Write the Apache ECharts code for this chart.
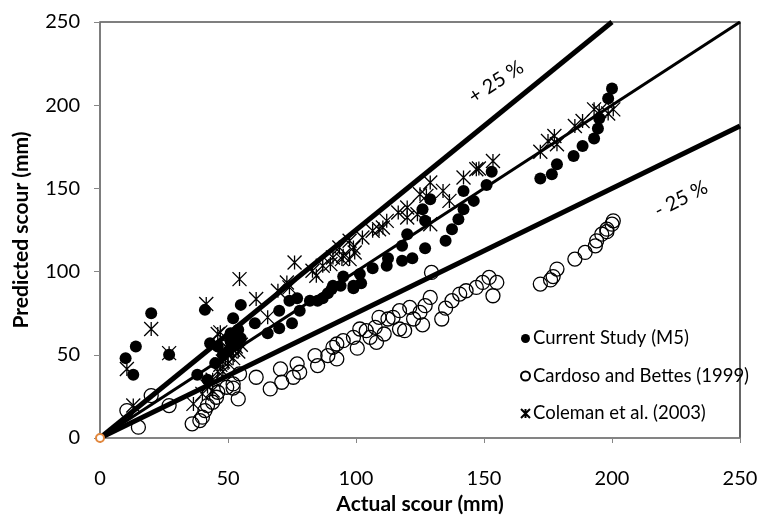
<!DOCTYPE html>
<html>
<head>
<meta charset="utf-8">
<script src="https://cdn.jsdelivr.net/npm/echarts@6/dist/echarts.min.js"></script>
<style>
  html, body { margin: 0; padding: 0; background: #fff; }
  #main { width: 757px; height: 515px; }
</style>
</head>
<body>
<div id="main"></div>
<script>
// tick values shared by both axes
var ticks = [0, 50, 100, 150, 200, 250];

// Current Study (M5): [actual, predicted]
var currentStudy = [
    [10, 48], [14, 55], [13, 38], [20, 75], [27, 50], [41, 77], [55, 80],
    [38, 38], [42, 35], [45, 45], [46, 55], [48, 50], [50, 52], [51, 58],
    [52, 62], [53, 56], [54, 65], [55, 60], [52, 72], [43, 57], [51, 63],
    [53.5, 58], [60.5, 69], [65.5, 63], [70, 66], [75, 69], [70, 76.5],
    [74, 82.5], [77, 84], [78, 76.5], [82, 82.5], [85, 82.5], [87, 84],
    [89, 87], [90.5, 89.5], [91, 91.5], [94, 91.5], [95, 97], [99, 91.5],
    [99, 90], [101.5, 98.5], [102, 93], [106.5, 102], [112, 103.5],
    [112.5, 108], [118, 106.5], [118, 115.5], [120, 122.5], [122, 108],
    [127, 114], [126, 137.5], [127, 130.5], [129, 143.5], [135, 118.5],
    [137.5, 125.5], [140, 131.5], [142, 137.5], [142, 148.5], [146, 142.5],
    [151, 152], [153, 160], [172, 156], [176.5, 158.5], [178.5, 164.5],
    [185, 169.5], [188.5, 175.5], [193, 180], [194.5, 186], [195, 192],
    [198.5, 204], [200, 210]
];

// Cardoso and Bettes (1999)
var cardosoBettes = [
    [10.5, 16.5], [15, 6.5], [20, 25.5], [27, 19.5], [36, 8.5], [39, 10.5],
    [40, 12.5], [41, 16.5], [42, 19.5], [44, 21.5], [45.5, 24.5], [46, 27.5],
    [49.5, 30.5], [52, 32.5], [52, 30], [54, 23.5], [54.5, 38.5], [61, 36.5],
    [66.5, 29.5], [71, 33.5], [70.5, 41.5], [75.5, 36.5], [77, 44.5],
    [78, 39.5], [85, 43.5], [84, 49.5], [89, 49.5], [91, 54.5], [92.5, 47.5],
    [92.5, 56.5], [95, 58.5], [99, 60.5], [100.5, 54], [101.5, 65.5],
    [104, 64.5], [105.5, 60.5], [108, 57.5], [107.5, 66.5], [109, 72.5],
    [111, 62.5], [112.5, 71.5], [114.5, 72.5], [117, 65.5], [117, 76.5],
    [119, 64.5], [121, 78.5], [122.5, 71.5], [125, 75.5], [126, 68],
    [127, 79.5], [129, 84.5], [129.5, 99.5], [133.5, 71.5], [135, 78],
    [137.5, 82.5], [140.5, 86.5], [143, 88.5], [147, 90.5], [149.5, 93.5],
    [152, 96.5], [155, 93.5], [153.5, 85.5], [172, 92.5], [176, 95],
    [177, 97], [178.5, 101.5], [185.5, 107.5], [189.5, 111.5], [193.5, 115.5],
    [194, 118.5], [196, 122.5], [198, 124], [198, 125.5], [200, 128.5],
    [200.5, 130.5]
];

// Coleman et al. (2003)
var colemanEtAl = [
    [10.5, 41.5], [13, 19.5], [20, 65.5], [27, 51], [36.5, 20.5], [41.5, 80.5],
    [40, 26.5], [44, 28.5], [42, 31], [44, 35], [46, 40], [47, 44], [48, 46],
    [49, 48], [50, 50], [51, 52], [52, 53], [53, 55], [54, 52], [55, 56],
    [48, 40], [50, 45], [52, 48], [46, 62.5], [47, 63.5], [49.5, 54.5],
    [54.5, 95.5], [61, 83.5], [65.5, 72.5], [69.5, 88.5], [73, 93.5],
    [76, 105.5], [74, 90.5], [83, 100.5], [84.5, 97.5], [87, 103.5],
    [90, 104.5], [91, 108.5], [94.5, 107.5], [95, 109.5], [97.5, 107.5],
    [99, 114.5], [99.5, 111.5], [93.5, 114.5], [97.5, 118.5], [102.5, 120.5],
    [106.5, 124.5], [109, 125.5], [110.5, 126.5], [112, 130.5], [116.5, 135.5],
    [120, 138.5], [120, 132.5], [124, 134.5], [125, 146.5], [127.5, 145.5],
    [129, 128.5], [129, 153.5], [134, 148.5], [136.5, 142.5], [142, 156.5],
    [147, 161.5], [148, 162], [153.5, 166.5], [172, 172], [175, 178.5],
    [177.5, 181.5], [178.5, 176.5], [185.5, 187.5], [188.5, 190.5],
    [193, 197.5], [195, 196.5], [198.5, 195], [200.5, 197.5]
];

// reference lines: perfect agreement, +25 %, -25 %
var lineEqual = [[0, 0], [250, 250]];
var linePlus25 = [[0, 0], [200, 250]];
var lineMinus25 = [[0, 0], [250, 187.5]];
var origin = [[0, 0]];

var fontName = 'Lato, "Open Sans", sans-serif';
var starPath = 'path://M-1,-1L1,1M-1,1L1,-1M0,-1L0,1';

var myChart = echarts.init(document.getElementById('main'));

var option = {
    animation: false,
    backgroundColor: '#fff',
    grid: {
        left: 100,
        right: 17,
        top: 22,
        bottom: 77,
        outerBoundsMode: 'none',
        show: true,
        borderColor: '#000',
        borderWidth: 1.2
    },
    legend: {
        orient: 'vertical',
        left: 515,
        top: 324,
        itemWidth: 9,
        itemHeight: 9,
        itemGap: 18.5,
        data: ['Current Study (M5)', 'Cardoso and Bettes (1999)', 'Coleman et al. (2003)'],
        textStyle: { fontFamily: fontName, fontSize: 18.5, color: '#000', padding: [0, 0, 0, -2] }
    },
    xAxis: {
        type: 'value',
        min: 0,
        max: 250,
        interval: 50,
        name: 'Actual scour (mm)',
        nameLocation: 'middle',
        nameGap: 56,
        nameTextStyle: { fontFamily: fontName, fontSize: 21, fontWeight: 'bold', color: '#000' },
        axisLine: { lineStyle: { color: '#868686', width: 1.5 } },
        axisTick: { show: true, length: 5, lineStyle: { color: '#868686' } },
        axisLabel: { fontFamily: fontName, fontSize: 20, color: '#000', margin: 31 },
        splitLine: { show: false }
    },
    yAxis: {
        type: 'value',
        min: 0,
        max: 250,
        interval: 50,
        name: 'Predicted scour (mm)',
        nameLocation: 'middle',
        nameGap: 68,
        nameTextStyle: { fontFamily: fontName, fontSize: 21, fontWeight: 'bold', color: '#000' },
        axisLine: { lineStyle: { color: '#868686', width: 1.5 } },
        axisTick: { show: true, length: 6, lineStyle: { color: '#868686' } },
        axisLabel: { fontFamily: fontName, fontSize: 20, color: '#000', margin: 20 },
        splitLine: { show: false }
    },
    graphic: [
        {
            type: 'text',
            x: 496, y: 82,
            rotation: 33 * Math.PI / 180,
            style: { text: '+ 25 %', fontFamily: fontName, fontSize: 20, fill: '#000', align: 'center', verticalAlign: 'middle' }
        },
        {
            type: 'text',
            x: 681, y: 199,
            rotation: 27 * Math.PI / 180,
            style: { text: '- 25 %', fontFamily: fontName, fontSize: 20, fill: '#000', align: 'center', verticalAlign: 'middle' }
        }
    ],
    series: [
        {
            name: 'equal',
            type: 'line',
            data: lineEqual,
            symbol: 'none',
            lineStyle: { color: '#000', width: 3 },
            z: 1
        },
        {
            name: 'plus25',
            type: 'line',
            data: linePlus25,
            symbol: 'none',
            lineStyle: { color: '#000', width: 5 },
            z: 1
        },
        {
            name: 'minus25',
            type: 'line',
            data: lineMinus25,
            symbol: 'none',
            lineStyle: { color: '#000', width: 5 },
            z: 1
        },
        {
            name: 'Cardoso and Bettes (1999)',
            type: 'scatter',
            data: cardosoBettes,
            symbol: 'circle',
            symbolSize: 14,
            itemStyle: { color: 'rgba(255,255,255,0)', borderColor: '#000', borderWidth: 1.3, opacity: 1 },
            z: 2
        },
        {
            name: 'Current Study (M5)',
            type: 'scatter',
            data: currentStudy,
            symbol: 'circle',
            symbolSize: 12,
            itemStyle: { color: '#000', opacity: 1 },
            z: 3
        },
        {
            name: 'Coleman et al. (2003)',
            type: 'scatter',
            data: colemanEtAl,
            symbol: starPath,
            symbolSize: 14,
            itemStyle: { color: 'rgba(0,0,0,0)', borderColor: '#000', borderWidth: 1.3, opacity: 1 },
            z: 4
        },
        {
            name: 'origin',
            type: 'scatter',
            data: origin,
            symbol: 'circle',
            symbolSize: 8,
            itemStyle: { color: '#fff', borderColor: '#e2873d', borderWidth: 2, opacity: 1 },
            z: 5
        }
    ]
};

myChart.setOption(option);
</script>
</body>
</html>
